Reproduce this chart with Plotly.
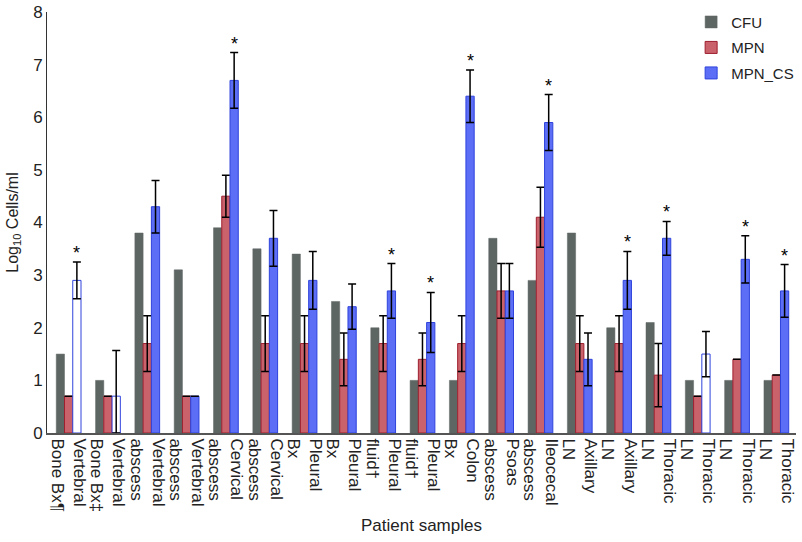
import plotly.graph_objects as go

labels = ["Vertebral<br>Bone Bx¶", "Vertebral<br>Bone Bx‡", "Vertebral<br>abscess", "Vertebral<br>abscess",
          "Cervical<br>abscess", "Cervical<br>abscess", "Pleural<br>Bx", "Pleural<br>Bx",
          "Pleural<br>fluid†", "Pleural<br>fluid†", "Colon<br>Bx", "Psoas<br>abscess",
          "Ileocecal<br>abscess", "Axillary<br>LN", "Axillary<br>LN", "Thoracic<br>LN",
          "Thoracic<br>LN", "Thoracic<br>LN", "Thoracic<br>LN"]

cfu = [1.5, 1.0, 3.8, 3.1, 3.9, 3.5, 3.4, 2.5, 2.0, 1.0, 1.0, 3.7, 2.9, 3.8, 2.0, 2.1, 1.0, 1.0, 1.0]
mpn = [0.7, 0.7, 1.7, 0.7, 4.5, 1.7, 1.7, 1.4, 1.7, 1.4, 1.7, 2.7, 4.1, 1.7, 1.7, 1.1, 0.7, 1.4, 1.1]
mpn_err = [0, 0, 0.53, 0, 0.4, 0.53, 0.53, 0.5, 0.53, 0.5, 0.53, 0.52, 0.57, 0.53, 0.53, 0.6, 0, 0, 0]
mpn_cs = [2.9, 0.7, 4.3, 0.7, 6.7, 3.7, 2.9, 2.4, 2.7, 2.1, 6.4, 2.7, 5.9, 1.4, 2.9, 3.7, 1.5, 3.3, 2.7]
mpn_cs_err = [0.35, 0.87, 0.5, 0, 0.53, 0.53, 0.55, 0.43, 0.52, 0.57, 0.5, 0.52, 0.53, 0.5, 0.55, 0.32, 0.43, 0.45, 0.5]
mpn_cs_err_minus = [0.35, 0.7, 0.5, 0, 0.53, 0.53, 0.55, 0.43, 0.52, 0.57, 0.5, 0.52, 0.53, 0.5, 0.55, 0.32, 0.43, 0.45, 0.5]
hollow = [True, True, False, False, False, False, False, False, False, False, False, False, False, False, False, False, True, False, False]
significant = [True, False, False, False, True, False, False, False, True, True, True, False, True, False, True, True, False, True, True]

x = list(range(len(labels)))
FONT = "Liberation Sans, Arial, Helvetica, sans-serif"
TXT = "#222"
bargap = 0.37
bw = (1 - bargap) / 3

GRAY, RED, RED_L, BLUE, BLUE_L = "#5e6664", "#c9626b", "#9e1f2e", "#5b6ef5", "#2f43dc"
err_style = dict(type="data", color="black", thickness=1.5, width=4, visible=True)

fig = go.Figure()
fig.add_trace(go.Bar(name="CFU", x=x, y=cfu, offsetgroup="a", legendgroup="a",
                     marker=dict(color=GRAY, line=dict(color=GRAY, width=0.5))))
fig.add_trace(go.Bar(name="MPN", x=x, y=mpn, offsetgroup="b", legendgroup="b",
                     marker=dict(color=RED, line=dict(color=RED_L, width=1)),
                     error_y=dict(array=mpn_err, **err_style)))
fig.add_trace(go.Bar(name="MPN_CS", x=x, y=mpn_cs, offsetgroup="c", legendgroup="c", showlegend=False,
                     marker=dict(color=["white" if h else BLUE for h in hollow],
                                 line=dict(color=BLUE_L, width=1)),
                     error_y=dict(array=mpn_cs_err, arrayminus=mpn_cs_err_minus, symmetric=False, **err_style)))
# legend entry for MPN_CS (filled swatch), sharing the same offset group
fig.add_trace(go.Bar(name="MPN_CS", x=[None], y=[None], offsetgroup="c", legendgroup="c",
                     marker=dict(color=BLUE, line=dict(color=BLUE_L, width=1))))

for i, s in enumerate(significant):
    if s:
        fig.add_annotation(x=i + bw, y=mpn_cs[i] + mpn_cs_err[i], text="*", showarrow=False,
                           yanchor="bottom", yshift=-3, font=dict(size=18, color="black", family=FONT))

fig.update_layout(
    width=802, height=542,
    margin=dict(l=47, r=3, t=12, b=109),
    paper_bgcolor="white", plot_bgcolor="white",
    barmode="group", bargap=bargap, bargroupgap=0,
    font=dict(family=FONT, size=16, color=TXT),
    showlegend=True,
    legend=dict(x=0.86, y=1.015, xanchor="left", yanchor="top", font=dict(size=15, color=TXT),
                bgcolor="rgba(0,0,0,0)", tracegroupgap=3, itemwidth=30),
)
fig.update_xaxes(tickmode="array", tickvals=x, ticktext=labels, tickangle=90,
                 range=[-0.55, len(labels) - 0.5], showline=True, linecolor="#555", linewidth=2,
                 ticks="", ticklen=0, showgrid=False, zeroline=False, automargin=False,
                 tickfont=dict(size=17, family=FONT, color=TXT),
                 title=dict(text="Patient samples", font=dict(size=17, family=FONT, color=TXT), standoff=8))
fig.update_yaxes(range=[0, 8], dtick=1, showline=True, linecolor="#333", linewidth=1,
                 ticks="", ticklen=0, showgrid=False, zeroline=False, automargin=False,
                 tickfont=dict(size=17, family=FONT, color=TXT),
                 title=dict(text="Log<sub>10</sub> Cells/ml", font=dict(size=16, family=FONT, color=TXT), standoff=10))

fig.write_html("out.html", config={"displayModeBar": False},
               post_script="document.body.style.margin='0';")
